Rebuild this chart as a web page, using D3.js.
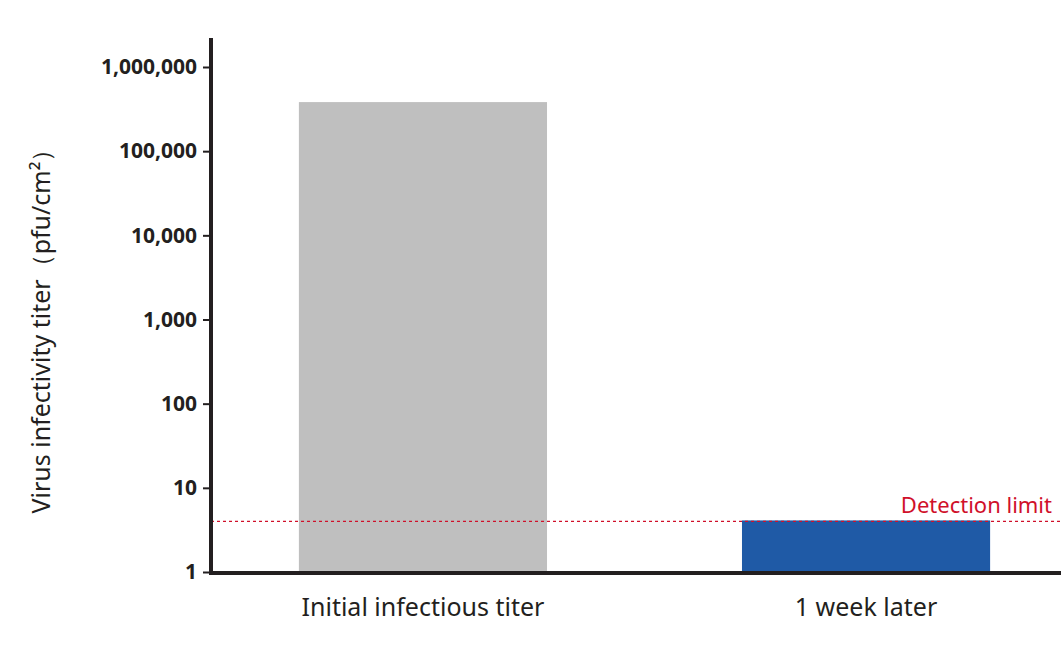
<!DOCTYPE html>
<html><head><meta charset="utf-8">
<script src="https://cdn.jsdelivr.net/npm/d3@7"></script>
<style>body{margin:0;background:#fff;font-family:"Noto Sans",sans-serif;}</style>
</head><body>
<svg id="chart" width="1061" height="657"></svg>
<script>
const categories = ['Initial infectious titer', '1 week later'];
const titers = [383000, 4.1];
const barColors = ['#bfbfbf', '#1f5aa6'];
const tickValues = [1, 10, 100, 1000, 10000, 100000, 1000000];
const detectionLimit = 4;

const svg = d3.select('#chart');
const plotLeft = 211, plotRight = 1061, plotTop = 38, plotBottom = 572;

const y = d3.scaleLog().domain([1, 1000000]).range([plotBottom, 67]);
const x = d3.scaleBand().domain(categories).range([228, 1061]).paddingInner(0.44).paddingOuter(0.16);

svg.selectAll('rect.bar').data(categories).enter().append('rect')
	.attr('class', 'bar')
	.attr('x', d => x(d))
	.attr('width', x.bandwidth())
	.attr('y', (d, i) => y(titers[i]))
	.attr('height', (d, i) => plotBottom - y(titers[i]))
	.attr('fill', (d, i) => barColors[i]);

// detection limit
svg.append('line')
	.attr('x1', plotLeft).attr('x2', plotRight)
	.attr('y1', y(detectionLimit)).attr('y2', y(detectionLimit))
	.attr('stroke', '#d0102a').attr('stroke-width', 1.3).attr('stroke-dasharray', '3,3');
svg.append('text')
	.attr('x', 1052).attr('y', y(detectionLimit) - 8)
	.attr('text-anchor', 'end').attr('fill', '#d0102a')
	.attr('font-size', 22).text('Detection limit');

// y axis
const yAxis = svg.append('g').attr('transform', `translate(${plotLeft},0)`)
	.call(d3.axisLeft(y).tickValues(tickValues).tickFormat(d3.format(',')).tickSize(8).tickPadding(6));
yAxis.select('.domain').remove();
yAxis.selectAll('.tick line').attr('stroke', '#231f20').attr('stroke-width', 2);
yAxis.selectAll('.tick text').attr('font-size', 21).attr('font-weight', 'bold').attr('fill', '#231f20')
	.attr('font-family', '"Noto Sans",sans-serif');
svg.append('line').attr('x1', plotLeft).attr('x2', plotLeft).attr('y1', plotTop).attr('y2', plotBottom + 2)
	.attr('stroke', '#231f20').attr('stroke-width', 4);

// x axis
svg.append('line').attr('x1', plotLeft - 2).attr('x2', plotRight).attr('y1', plotBottom + 1).attr('y2', plotBottom + 1)
	.attr('stroke', '#231f20').attr('stroke-width', 4);
svg.selectAll('text.xlab').data(categories).enter().append('text')
	.attr('class', 'xlab')
	.attr('x', d => x(d) + x.bandwidth() / 2).attr('y', 616)
	.attr('text-anchor', 'middle').attr('font-size', 25).attr('fill', '#231f20')
	.text(d => d);

svg.append('text')
	.attr('transform', 'translate(50,325) rotate(-90)')
	.attr('text-anchor', 'middle').attr('font-size', 25).attr('fill', '#231f20')
	.text('Virus infectivity titer（pfu/cm²）');
</script>
</body></html>
